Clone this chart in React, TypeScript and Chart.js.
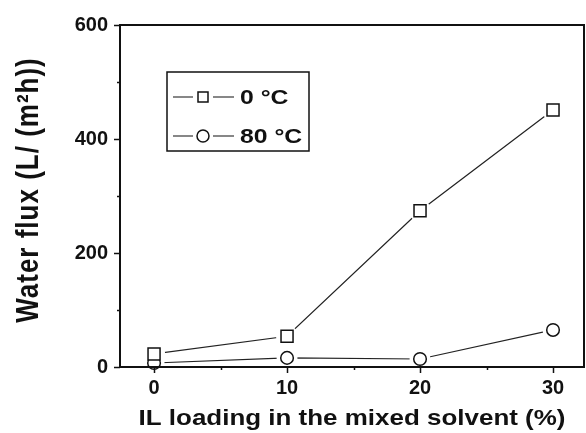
import React, { useEffect, useRef } from 'react';
import { Chart, registerables } from 'chart.js';
Chart.register(...registerables);

const loadings = [0, 10, 20, 30];
const flux0C = [23, 54, 274, 451];
const flux80C = [7, 16, 14, 65];
const seriesLabels = ['0 °C', '80 °C'];
const xMajorTicks = [0, 10, 20, 30];
const xMinorTicks = [5, 15, 25];
const yMajorTicks = [0, 200, 400, 600];
const yMinorTicks = [100, 300, 500];
const xTitle = 'IL loading in the mixed solvent (%)';
const yTitle = 'Water flux (L/ (m²h))';

const FONT = '"Liberation Sans", Arial, sans-serif';
const STRETCH = 1.18;
const INK = '#111';

function pts(ys: number[]) {
  return loadings.map((x, i) => ({ x, y: ys[i] }));
}

export default function App() {
  const ref = useRef<HTMLCanvasElement>(null);
  useEffect(() => {
    const canvas = ref.current!;
    const decor = {
      id: 'decor',
      afterDraw(chart: any) {
        const { ctx, chartArea: a, scales } = chart;
        const xs = scales.x;
        const ys = scales.y;
        ctx.save();
        ctx.strokeStyle = INK;
        ctx.lineWidth = 2;
        ctx.strokeRect(a.left, a.top, a.right - a.left, a.bottom - a.top);
        ctx.lineWidth = 1.5;
        ctx.beginPath();
        xMajorTicks.forEach((v) => {
          const p = Math.round(xs.getPixelForValue(v)) + 0.5;
          ctx.moveTo(p, a.bottom);
          ctx.lineTo(p, a.bottom + 6);
        });
        xMinorTicks.forEach((v) => {
          const p = Math.round(xs.getPixelForValue(v)) + 0.5;
          ctx.moveTo(p, a.bottom);
          ctx.lineTo(p, a.bottom + 3);
        });
        yMajorTicks.forEach((v) => {
          const p = Math.round(ys.getPixelForValue(v)) + 0.5;
          ctx.moveTo(a.left, p);
          ctx.lineTo(a.left - 6, p);
        });
        yMinorTicks.forEach((v) => {
          const p = Math.round(ys.getPixelForValue(v)) + 0.5;
          ctx.moveTo(a.left, p);
          ctx.lineTo(a.left - 3, p);
        });
        ctx.stroke();

        ctx.fillStyle = INK;
        // x title
        ctx.font = `bold 22px ${FONT}`;
        ctx.textAlign = 'center';
        ctx.textBaseline = 'alphabetic';
        ctx.save();
        ctx.translate((a.left + a.right) / 2, 425);
        ctx.scale(STRETCH, 1);
        ctx.fillText(xTitle, 0, 0);
        ctx.restore();
        // y title
        ctx.font = `bold 26px ${FONT}`;
        ctx.save();
        ctx.translate(38, 190);
        ctx.scale(STRETCH, 1);
        ctx.rotate(-Math.PI / 2);
        try { (ctx as any).letterSpacing = '1px'; } catch (e) {}
        ctx.fillText(yTitle, 0, 0);
        ctx.restore();
        try { (ctx as any).letterSpacing = '0px'; } catch (e) {}

        // legend
        const bx = a.left + 47;
        const by = a.top + 47;
        ctx.lineWidth = 1.5;
        ctx.strokeRect(bx, by, 142, 79);
        const rows = [by + 25, by + 64];
        ctx.font = `bold 21px ${FONT}`;
        ctx.textAlign = 'left';
        rows.forEach((ry, i) => {
          ctx.lineWidth = 1.2;
          ctx.beginPath();
          ctx.moveTo(bx + 6, ry);
          ctx.lineTo(bx + 26, ry);
          ctx.moveTo(bx + 46, ry);
          ctx.lineTo(bx + 67, ry);
          ctx.stroke();
          const mx = bx + 36;
          ctx.lineWidth = 1.5;
          ctx.fillStyle = '#fff';
          ctx.beginPath();
          if (i === 0) {
            ctx.rect(mx - 5, ry - 5, 10, 10);
          } else {
            ctx.arc(mx, ry, 6, 0, Math.PI * 2);
          }
          ctx.fill();
          ctx.stroke();
          ctx.fillStyle = INK;
          ctx.save();
          ctx.translate(bx + 73, ry + 7);
          ctx.scale(STRETCH, 1);
          ctx.fillText(seriesLabels[i], 0, 0);
          ctx.restore();
        });
        ctx.restore();
      },
    };

    const lineDs = (label: string, ys: number[]) => ({
      label,
      data: pts(ys),
      showLine: true,
      borderColor: '#222',
      borderWidth: 1.2,
      pointRadius: 0,
      order: 2,
      clip: false,
    });
    const haloDs = (label: string, ys: number[], r: number) => ({
      label,
      data: pts(ys),
      showLine: false,
      pointStyle: 'circle',
      pointRadius: r,
      pointBackgroundColor: '#fff',
      pointBorderColor: '#fff',
      pointBorderWidth: 0,
      order: 1,
      clip: false,
    });
    const markDs = (label: string, ys: number[], style: string, r: number) => ({
      label,
      data: pts(ys),
      showLine: false,
      pointStyle: style,
      pointRadius: r,
      pointBackgroundColor: '#fff',
      pointBorderColor: INK,
      pointBorderWidth: 1.5,
      order: 0,
      clip: false,
    });

    const chart = new Chart(canvas, {
      type: 'scatter',
      data: {
        datasets: [
          markDs(seriesLabels[0], flux0C, 'rect', 8.5),
          markDs(seriesLabels[1], flux80C, 'circle', 6.3),
          haloDs('halo0', flux0C, 11),
          haloDs('halo1', flux80C, 10.5),
          lineDs('line0', flux0C),
          lineDs('line1', flux80C),
        ] as any,
      },
      options: {
        animation: false,
        responsive: false,
        events: [],
        layout: { autoPadding: false, padding: { left: 0, top: 25, right: 2, bottom: 0 } },
        plugins: { legend: { display: false }, tooltip: { enabled: false } },
        scales: {
          x: {
            type: 'linear',
            min: -2.56,
            max: 32.33,
            grid: { display: false, drawTicks: false },
            border: { display: false },
            ticks: {
              color: INK,
              padding: 9,
              font: { family: FONT, size: 20, weight: 'bold' },
            },
            afterBuildTicks: (s: any) => {
              s.ticks = xMajorTicks.map((v) => ({ value: v }));
            },
            afterFit: (s: any) => {
              s.height = 66;
              s.paddingLeft = 0;
              s.paddingRight = 0;
            },
          },
          y: {
            type: 'linear',
            min: 0,
            max: 600,
            grid: { display: false, drawTicks: false },
            border: { display: false },
            ticks: {
              color: INK,
              padding: 12,
              font: { family: FONT, size: 20, weight: 'bold' },
            },
            afterBuildTicks: (s: any) => {
              s.ticks = yMajorTicks.map((v) => ({ value: v }));
            },
            afterFit: (s: any) => {
              s.width = 120;
              s.paddingTop = 0;
              s.paddingBottom = 0;
            },
          },
        },
      } as any,
      plugins: [decor],
    });
    return () => chart.destroy();
  }, []);

  return (
    <div style={{ position: 'fixed', left: 0, top: 0, width: 586, height: 433, background: '#fff' }}>
      <canvas ref={ref} width={586} height={433} style={{ width: 586, height: 433, display: 'block' }} />
    </div>
  );
}
